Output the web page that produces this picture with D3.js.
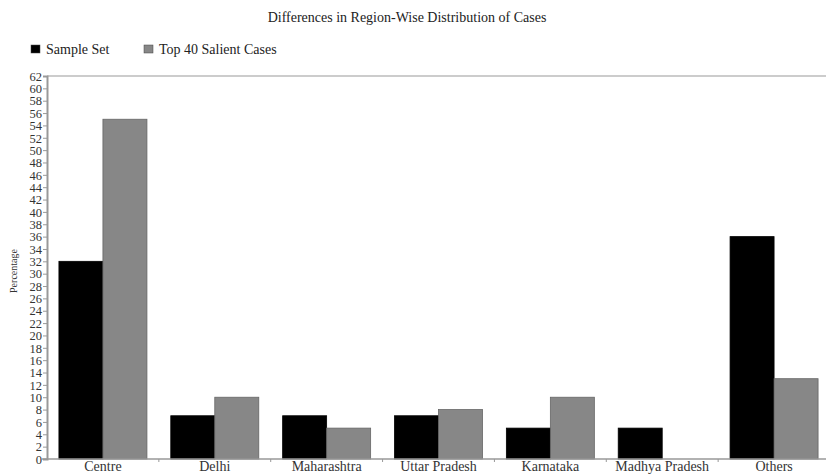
<!DOCTYPE html>
<html><head><meta charset="utf-8">
<script src="https://cdn.jsdelivr.net/npm/d3@7"></script>
<style>body{margin:0;background:#fff}svg{display:block}</style>
</head><body><svg id="c" width="826" height="474"></svg>
<script>
const categories = ["Centre","Delhi","Maharashtra","Uttar Pradesh","Karnataka","Madhya Pradesh","Others"];
const seriesNames = ["Sample Set","Top 40 Salient Cases"];
const sampleSet = [32,7,7,7,5,5,36];
const top40 = [55,10,5,8,10,0,13];
const colors = ["#000000","#878787"];
const yTicks = d3.range(0,63,2);

(function(){
const FONT = "'Liberation Serif','Times New Roman','DejaVu Serif',serif";
const svg = d3.select("#c").attr("font-family", FONT);
const mLeft = 47, mTop = 76, mBottom = 459, mRight = 830;
const x = d3.scaleBand().domain(categories).range([mLeft,mRight]).paddingInner(0).paddingOuter(0);
const inner = d3.scaleBand().domain(seriesNames).range([0, 88]);
const y = d3.scaleLinear().domain([0,62]).range([mBottom,mTop]);

svg.append("text").attr("x",407).attr("y",22).attr("text-anchor","middle").attr("font-size",14).attr("fill","#222").text("Differences in Region-Wise Distribution of Cases");

const lg = [{x:31,name:seriesNames[0],c:colors[0]},{x:144,name:seriesNames[1],c:colors[1]}];
lg.forEach(l=>{
  svg.append("rect").attr("x",l.x).attr("y",45).attr("width",9).attr("height",8).attr("fill",l.c).attr("stroke","#444").attr("stroke-width",0.5);
  svg.append("text").attr("x",l.x+15).attr("y",54).attr("font-size",14).attr("fill","#222").text(l.name);
});

svg.append("line").attr("x1",mLeft).attr("x2",826).attr("y1",mTop).attr("y2",mTop).attr("stroke","#bbb").attr("stroke-width",1.5);

const data = categories.map((c,i)=>({c, vals:[sampleSet[i], top40[i]]}));
const g = svg.append("g");
data.forEach(d=>{
  const x0 = x(d.c) + (x.bandwidth()-88)/2;
  d.vals.forEach((v,j)=>{
    if (v<=0) return;
    g.append("rect").attr("x",x0+inner(seriesNames[j])).attr("y",y(v))
     .attr("width",inner.bandwidth()).attr("height",mBottom-y(v))
     .attr("fill",colors[j]).attr("stroke", j===0?"#000":"#666").attr("stroke-width",0.8);
  });
});

const ya = svg.append("g").attr("transform",`translate(${mLeft},0)`)
  .call(d3.axisLeft(y).tickValues(yTicks).tickSize(4).tickPadding(1));
ya.attr("font-family", FONT).attr("font-size", 12.5);
ya.select(".domain").attr("stroke","#999").attr("stroke-width",2);
ya.selectAll(".tick line").attr("stroke","#999");
ya.selectAll(".tick text").attr("fill","#333").attr("dy","0.34em");

const xa = svg.append("g").attr("transform",`translate(0,${mBottom})`)
  .call(d3.axisBottom(x).tickSize(0).tickPadding(2));
xa.attr("font-family", FONT).attr("font-size", 14);
xa.select(".domain").remove();
xa.selectAll(".tick text").attr("fill","#333");
svg.append("line").attr("x1",mLeft-5).attr("x2",826).attr("y1",mBottom).attr("y2",mBottom).attr("stroke","#999").attr("stroke-width",1.5);
categories.slice(1).forEach(c=>{
  svg.append("line").attr("x1",x(c)).attr("x2",x(c)).attr("y1",mBottom).attr("y2",mBottom+3).attr("stroke","#999");
});

svg.append("text").attr("transform","translate(17,271) rotate(-90)").attr("text-anchor","middle").attr("font-size",10).attr("fill","#333").text("Percentage");
})();
</script></body></html>
